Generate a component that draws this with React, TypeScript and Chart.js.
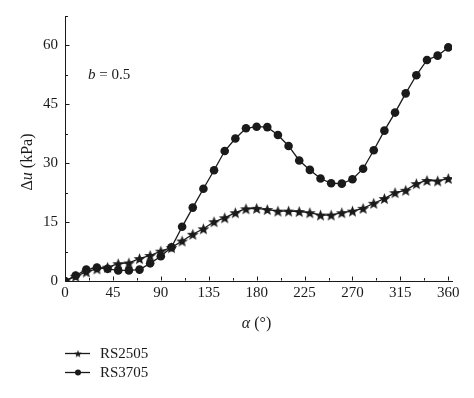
import React, { useEffect, useRef } from "react";
import { Chart, registerables } from "chart.js";

Chart.register(...registerables);

const angles = [0, 10, 20, 30, 40, 50, 60, 70, 80, 90, 100, 110, 120, 130, 140, 150, 160, 170, 180, 190, 200, 210, 220, 230, 240, 250, 260, 270, 280, 290, 300, 310, 320, 330, 340, 350, 360];
const rs2505 = [0, 1.2, 2.3, 3.1, 3.5, 4.4, 4.6, 5.7, 6.5, 7.6, 8.5, 10.2, 11.9, 13.3, 15.1, 16.1, 17.4, 18.4, 18.5, 18.2, 17.8, 17.8, 17.7, 17.4, 16.8, 16.8, 17.4, 17.8, 18.5, 19.8, 21.0, 22.5, 23.1, 24.8, 25.6, 25.5, 26.1];
const rs3705 = [0, 1.4, 2.9, 3.4, 3.1, 2.7, 2.7, 2.9, 4.5, 6.3, 8.6, 13.8, 18.7, 23.5, 28.2, 33.1, 36.3, 38.9, 39.3, 39.2, 37.2, 34.4, 30.7, 28.3, 26.1, 24.9, 24.8, 25.9, 28.6, 33.3, 38.3, 42.9, 47.8, 52.4, 56.3, 57.4, 59.5];
const xTicks = [0, 45, 90, 135, 180, 225, 270, 315, 360];
const yTicks = [0, 15, 30, 45, 60];
const xMinorTicks = [22.5, 67.5, 112.5, 157.5, 202.5, 247.5, 292.5, 337.5];
const yMinorTicks = [7.5, 22.5, 37.5, 52.5, 67.5];
const seriesNames = ["RS2505", "RS3705"];

const FONT = '"Liberation Serif", "Times New Roman", serif';
const INK = "#1a1a1a";

function makeStar(outer: number, inner: number): HTMLCanvasElement {
  const size = Math.ceil(outer * 2 + 2);
  const c = document.createElement("canvas");
  c.width = size;
  c.height = size;
  const ctx = c.getContext("2d")!;
  const cx = size / 2;
  const cy = size / 2 + 0.6;
  ctx.beginPath();
  for (let i = 0; i < 10; i++) {
    const r = i % 2 === 0 ? outer : inner;
    const a = -Math.PI / 2 + (i * Math.PI) / 5;
    const x = cx + r * Math.cos(a);
    const y = cy + r * Math.sin(a);
    if (i === 0) ctx.moveTo(x, y);
    else ctx.lineTo(x, y);
  }
  ctx.closePath();
  ctx.fillStyle = INK;
  ctx.fill();
  return c;
}

type Seg = { t: string; italic?: boolean };

function segFont(s: Seg, size: number) {
  return `${s.italic ? "italic " : ""}${size}px ${FONT}`;
}

function drawSegs(ctx: CanvasRenderingContext2D, segs: Seg[], x: number, y: number, size: number, align: "left" | "center") {
  let total = 0;
  const widths = segs.map((s) => {
    ctx.font = segFont(s, size);
    const w = ctx.measureText(s.t).width;
    total += w;
    return w;
  });
  let cx = align === "center" ? x - total / 2 : x;
  ctx.textAlign = "left";
  segs.forEach((s, i) => {
    ctx.font = segFont(s, size);
    ctx.fillText(s.t, cx, y);
    cx += widths[i];
  });
}

export default function App() {
  const ref = useRef<HTMLCanvasElement | null>(null);

  useEffect(() => {
    if (!ref.current) return;
    const star = makeStar(6.2, 2.6);
    const starSmall = makeStar(4, 1.7);

    const overlay = {
      id: "overlay",
      afterDraw(chart: any) {
        const ctx: CanvasRenderingContext2D = chart.ctx;
        const xs = chart.scales.x;
        const ys = chart.scales.y;
        const area = chart.chartArea;
        ctx.save();
        ctx.strokeStyle = INK;
        ctx.lineWidth = 1;
        const left = Math.round(area.left) + 0.5;
        const bottom = Math.round(area.bottom) - 0.5;
        ctx.beginPath();
        yTicks.forEach((v) => {
          const p = Math.round(ys.getPixelForValue(v)) + 0.5;
          ctx.moveTo(left, p);
          ctx.lineTo(left + 4, p);
        });
        yMinorTicks.forEach((v) => {
          const p = Math.round(ys.getPixelForValue(v)) + 0.5;
          ctx.moveTo(left, p);
          ctx.lineTo(left + 2.5, p);
        });
        xTicks.forEach((v) => {
          const p = Math.round(xs.getPixelForValue(v)) + 0.5;
          ctx.moveTo(p, bottom);
          ctx.lineTo(p, bottom - 4);
        });
        xMinorTicks.forEach((v) => {
          const p = Math.round(xs.getPixelForValue(v)) + 0.5;
          ctx.moveTo(p, bottom);
          ctx.lineTo(p, bottom - 2.5);
        });
        ctx.stroke();

        ctx.fillStyle = INK;
        ctx.textBaseline = "alphabetic";
        drawSegs(ctx, [{ t: "b", italic: true }, { t: " = 0.5" }], 88, 79, 15, "left");
        drawSegs(ctx, [{ t: "α", italic: true }, { t: " (°)" }], (area.left + area.right) / 2 - 2, 328, 16, "center");
        ctx.save();
        ctx.translate(32, 162);
        ctx.rotate(-Math.PI / 2);
        drawSegs(ctx, [{ t: "Δ" }, { t: "u", italic: true }, { t: " (kPa)" }], 0, 0, 16, "center");
        ctx.restore();
        const rows = [
          { y: 353, name: seriesNames[0], marker: "star" },
          { y: 372, name: seriesNames[1], marker: "circle" },
        ];
        rows.forEach((r) => {
          ctx.beginPath();
          ctx.moveTo(65, r.y + 0.5);
          ctx.lineTo(90, r.y + 0.5);
          ctx.lineWidth = 1.3;
          ctx.stroke();
          if (r.marker === "star") {
            ctx.drawImage(starSmall, 78 - starSmall.width / 2, r.y + 0.5 - starSmall.height / 2);
          } else {
            ctx.beginPath();
            ctx.arc(78, r.y + 0.5, 3, 0, Math.PI * 2);
            ctx.fill();
          }
          ctx.font = `15px ${FONT}`;
          ctx.textBaseline = "middle";
          ctx.textAlign = "left";
          ctx.fillText(r.name, 100, r.y + 1);
        });
        ctx.restore();
      },
    };

    const chart = new Chart(ref.current, {
      type: "line",
      data: {
        datasets: [
          {
            label: seriesNames[0],
            data: angles.map((a, i) => ({ x: a, y: rs2505[i] })),
            borderColor: INK,
            backgroundColor: INK,
            borderWidth: 1.3,
            pointStyle: star as any,
            pointRadius: 6,
            tension: 0,
          },
          {
            label: seriesNames[1],
            data: angles.map((a, i) => ({ x: a, y: rs3705[i] })),
            borderColor: INK,
            backgroundColor: INK,
            borderWidth: 1.3,
            pointStyle: "circle",
            pointRadius: 4.3,
            pointBorderWidth: 0,
            tension: 0,
          },
        ],
      },
      options: {
        responsive: false,
        animation: false,
        layout: { padding: { left: 0, top: 16, right: 22, bottom: 0 } },
        plugins: { legend: { display: false }, tooltip: { enabled: false } },
        scales: {
          x: {
            type: "linear",
            min: 0,
            max: 363.5,
            grid: { display: false, drawTicks: false },
            border: { display: true, color: INK, width: 1 },
            ticks: { color: INK, font: { family: FONT, size: 15 }, padding: 3, maxRotation: 0 },
            afterBuildTicks: (s: any) => {
              s.ticks = xTicks.map((v) => ({ value: v }));
            },
            afterFit: (s: any) => {
              s.height = 117;
            },
          },
          y: {
            type: "linear",
            min: 0,
            max: 67.5,
            grid: { display: false, drawTicks: false },
            border: { display: true, color: INK, width: 1 },
            ticks: { color: INK, font: { family: FONT, size: 15 }, padding: 7 },
            afterBuildTicks: (s: any) => {
              s.ticks = yTicks.map((v) => ({ value: v }));
            },
            afterFit: (s: any) => {
              s.width = 65;
            },
          },
        },
      },
      plugins: [overlay],
    });
    return () => chart.destroy();
  }, []);

  return (
    <div style={{ position: "absolute", left: 0, top: 0, width: 474, height: 398, background: "#fff" }}>
      <canvas ref={ref} width={474} height={398} style={{ display: "block" }} />
    </div>
  );
}
